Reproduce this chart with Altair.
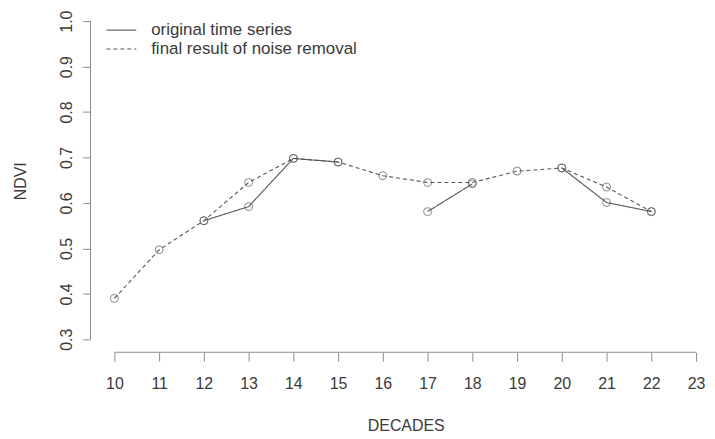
import altair as alt
import pandas as pd

decades = list(range(10, 23))
original = [None, None, 0.561, 0.592, 0.698, 0.69, None, 0.581, 0.642, None, 0.677, 0.601, 0.581]
final = [0.39, 0.497, 0.561, 0.645, 0.698, 0.69, 0.66, 0.645, 0.645, 0.67, 0.677, 0.635, 0.581]
series_names = ["original time series", "final result of noise removal"]
x_ticks = list(range(10, 24))
y_ticks = [0.3, 0.4, 0.5, 0.6, 0.7, 0.8, 0.9, 1.0]

rows = []
for d, o, f in zip(decades, original, final):
    rows.append({"decade": d, "series": series_names[0], "ndvi": o})
    rows.append({"decade": d, "series": series_names[1], "ndvi": f})
df = pd.DataFrame(rows)

W, H = 616, 345
FONT = "Liberation Sans"
TXT = "#3a3a3a"
LINE = "#555555"
AX = "#8a8a8a"

xscale = alt.Scale(domain=[9.4667, 23.1556], nice=False, zero=False)
yscale = alt.Scale(domain=[0.27156, 1.02625], nice=False, zero=False)

x_axis = alt.Axis(values=x_ticks, domain=False, grid=False, tickSize=9, tickColor=AX,
                  labelFontSize=16, labelColor=TXT, labelFont=FONT, labelPadding=14,
                  labelFlush=False, labelOverlap=False,
                  title="DECADES", titleFont=FONT, titleFontSize=16, titleFontWeight="normal",
                  titleColor=TXT, titleX=317, titleY=74, titleAlign="center", titleBaseline="middle")
y_axis = alt.Axis(values=y_ticks, format=".1f", domain=False, grid=False, tickSize=8, tickColor=AX,
                  labelFontSize=16, labelColor=TXT, labelFont=FONT, labelAngle=270,
                  labelAlign="center", labelBaseline="bottom", labelPadding=8,
                  labelFlush=False, labelOverlap=False,
                  title="NDVI", titleFont=FONT, titleFontSize=16, titleFontWeight="normal",
                  titleColor=TXT, titleAngle=270, titleX=-70, titleY=172.5,
                  titleAlign="center", titleBaseline="middle")

lines = alt.Chart(df).mark_line(color=LINE, strokeWidth=1.1, invalid="break-paths-show-domains").encode(
    x=alt.X("decade:Q", scale=xscale, axis=x_axis),
    y=alt.Y("ndvi:Q", scale=yscale, axis=y_axis),
    strokeDash=alt.StrokeDash("series:N", scale=alt.Scale(domain=series_names, range=[[1, 0], [4, 3]]), legend=None),
)

points = alt.Chart(df).mark_point(shape="circle", filled=False, size=64, color=LINE, strokeWidth=1).encode(
    x=alt.X("decade:Q", scale=xscale, axis=x_axis),
    y=alt.Y("ndvi:Q", scale=yscale, axis=y_axis),
)

xline = alt.Chart(pd.DataFrame({"decade": [x_ticks[0]], "b": [x_ticks[-1]]})).mark_rule(color=AX, strokeWidth=1).encode(
    x=alt.X("decade:Q", scale=xscale, axis=x_axis), x2="b:Q", y=alt.value(H)
)
yline = alt.Chart(pd.DataFrame({"ndvi": [y_ticks[0]], "b": [y_ticks[-1]]})).mark_rule(color=AX, strokeWidth=1).encode(
    y=alt.Y("ndvi:Q", scale=yscale, axis=y_axis), y2="b:Q", x=alt.value(0)
)

leg1_line = alt.Chart(pd.DataFrame({"label": [series_names[0]]})).mark_rule(color=LINE, strokeWidth=1.1).encode(
    x=alt.value(16), x2=alt.value(46), y=alt.value(21)
)
leg2_line = alt.Chart(pd.DataFrame({"label": [series_names[1]]})).mark_rule(color=LINE, strokeWidth=1.1, strokeDash=[4, 3]).encode(
    x=alt.value(16), x2=alt.value(46), y=alt.value(40)
)
leg1_text = alt.Chart(pd.DataFrame({"label": [series_names[0]]})).mark_text(
    align="left", baseline="middle", fontSize=17, font=FONT, color=TXT).encode(
    text="label:N", x=alt.value(61), y=alt.value(21))
leg2_text = alt.Chart(pd.DataFrame({"label": [series_names[1]]})).mark_text(
    align="left", baseline="middle", fontSize=17, font=FONT, color=TXT).encode(
    text="label:N", x=alt.value(61), y=alt.value(40))

chart = alt.layer(lines, points, xline, yline, leg1_line, leg2_line, leg1_text, leg2_text).properties(
    width=W, height=H,
    autosize=alt.AutoSizeParams(type="none"),
    padding={"left": 83, "top": 0, "right": 4, "bottom": 84},
).configure_view(strokeWidth=0)

chart.save("out.html", embed_options={"renderer": "svg", "actions": False})
